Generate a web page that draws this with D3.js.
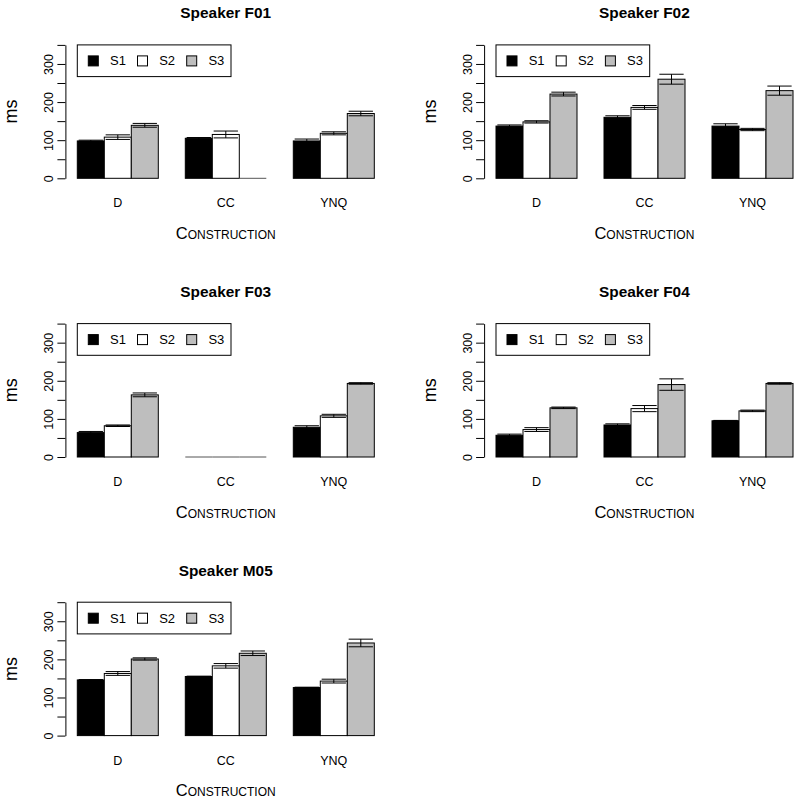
<!DOCTYPE html>
<html>
<head>
<meta charset="utf-8">
<script src="https://cdn.jsdelivr.net/npm/d3@7"></script>
<style>
  html, body { margin: 0; padding: 0; background: #fff; }
  svg { display: block; }
  text { font-family: "Liberation Sans", Arial, Helvetica, sans-serif; fill: #000; }
</style>
</head>
<body>
<svg id="chart" width="800" height="803"></svg>
<script>
// ---- data ----
const speakers = ["F01", "F02", "F03", "F04", "M05"];
const categories = ["D", "CC", "YNQ"];
const series = ["S1", "S2", "S3"];
const seriesFill = ["#000000", "#ffffff", "#bebebe"];
const yTicks = [0, 50, 100, 150, 200, 250, 300, 350];
const yTickLabels = [0, 100, 200, 300];

// means per category (rows: D, CC, YNQ; columns: S1, S2, S3)
const meansF01 = [[98, 108, 139], [105, 115, 0], [98, 118, 170]];
const errF01   = [[2, 6, 5], [2, 9, 0], [5, 4, 6]];
const meansF02 = [[137, 148, 221], [160, 186, 260], [137, 128, 230]];
const errF02   = [[3, 3, 5], [4, 5, 13], [6, 3, 12]];
const meansF03 = [[64, 82, 163], [0, 0, 0], [78, 108, 193]];
const errF03   = [[3, 2, 5], [0, 0, 0], [4, 4, 2]];
const meansF04 = [[57, 72, 129], [84, 127, 190], [95, 121, 193]];
const errF04   = [[3, 5, 2], [3, 8, 15], [1, 2, 2]];
const meansM05 = [[146, 163, 201], [155, 183, 216], [126, 143, 243]];
const errM05   = [[1, 5, 3], [1, 6, 6], [1, 5, 10]];

const panelMeans = [meansF01, meansF02, meansF03, meansF04, meansM05];
const panelErrs  = [errF01, errF02, errF03, errF04, errM05];

// ---- layout ----
const panelOffsets = [[0, 0], [418.7, 0], [0, 278.7], [418.7, 278.7], [0, 557.3]];
const plotLeft = 65.4, plotRight = 386;
const svg = d3.select("#chart");

const x0 = d3.scaleBand().domain(categories).range([77.3, 374.3]).paddingInner(0.25).paddingOuter(0);
const x1 = d3.scaleBand().domain(series).range([0, x0.bandwidth()]);
const y = d3.scaleLinear().domain([0, 350]).range([178.3, 44.9]);
const color = d3.scaleOrdinal().domain(series).range(seriesFill);
const plotCx = (plotLeft + plotRight) / 2;
const plotCy = (y(364) + y(-14)) / 2;

speakers.forEach((sp, pi) => {
  const [ox, oy] = panelOffsets[pi];
  const g = svg.append("g").attr("transform", `translate(${ox},${oy})`);
  const means = panelMeans[pi], errs = panelErrs[pi];

  const rows = [];
  categories.forEach((c, ci) => series.forEach((s, si) => {
    rows.push({ cat: c, ser: s, v: means[ci][si], e: errs[ci][si] });
  }));

  // title
  g.append("text").attr("x", plotCx).attr("y", 18.3)
    .attr("text-anchor", "middle").style("font-weight", "bold").style("font-size", "15.4px")
    .text("Speaker " + sp);

  // bars
  const bw = x1.bandwidth();
  rows.forEach(d => {
    const bx = x0(d.cat) + x1(d.ser);
    if (d.v > 0) {
      g.append("rect").attr("x", bx).attr("y", y(d.v))
        .attr("width", bw).attr("height", y(0) - y(d.v))
        .attr("fill", color(d.ser)).attr("stroke", "#000").attr("stroke-width", 1);
    } else {
      g.append("line").attr("x1", bx).attr("x2", bx + bw).attr("y1", y(0)).attr("y2", y(0))
        .attr("stroke", "#555").attr("stroke-width", 1);
    }
  });

  // error bars
  rows.filter(d => d.v > 0 && d.e > 0).forEach(d => {
    const cx = x0(d.cat) + x1(d.ser) + bw / 2;
    const hw = bw * 0.45;
    g.append("line").attr("x1", cx).attr("x2", cx).attr("y1", y(d.v - d.e)).attr("y2", y(d.v + d.e))
      .attr("stroke", "#000").attr("stroke-width", 1);
    [d.v - d.e, d.v + d.e].forEach(val => {
      g.append("line").attr("x1", cx - hw).attr("x2", cx + hw).attr("y1", y(val)).attr("y2", y(val))
        .attr("stroke", "#000").attr("stroke-width", 1);
    });
  });

  // y axis
  const axis = d3.axisLeft(y).tickValues(yTicks).tickSize(8).tickSizeOuter(0)
    .tickFormat(d => yTickLabels.includes(d) ? String(d) : "");
  const ag = g.append("g").attr("transform", `translate(${plotLeft},0)`).call(axis);
  ag.select(".domain").attr("stroke", "#000");
  ag.selectAll(".tick line").attr("stroke", "#000");
  ag.selectAll(".tick text")
    .attr("x", 0).attr("y", -12).attr("dy", null)
    .attr("transform", "rotate(-90)")
    .attr("text-anchor", "middle")
    .style("font-size", "12.5px")
    .attr("font-family", null).attr("fill", "#000");

  // y label
  g.append("text").attr("transform", `translate(17,${plotCy}) rotate(-90)`)
    .attr("text-anchor", "middle").style("font-size", "18px").text("ms");

  // category labels
  categories.forEach(c => {
    g.append("text").attr("x", x0(c) + x0.bandwidth() / 2).attr("y", 207.3)
      .attr("text-anchor", "middle").style("font-size", "12.5px").text(c);
  });

  // x label
  g.append("text").attr("x", plotCx).attr("y", 239)
    .attr("text-anchor", "middle").style("font-size", "16.5px")
    .style("font-variant", "small-caps").text("Construction");

  // legend
  const lx = x0.range()[0], ly = y(350);
  const lg = g.append("g").attr("transform", `translate(${lx},${ly})`);
  lg.append("rect").attr("x", 0).attr("y", 0).attr("width", 153.7).attr("height", 31.7)
    .attr("fill", "#fff").attr("stroke", "#000").attr("stroke-width", 1);
  series.forEach((s, i) => {
    const ix = 11 + i * 49.2;
    lg.append("rect").attr("x", ix).attr("y", 11).attr("width", 10).attr("height", 10)
      .attr("fill", color(s)).attr("stroke", "#000").attr("stroke-width", 1);
    lg.append("text").attr("x", ix + 21.7).attr("y", 20.6).style("font-size", "13px").text(s);
  });
});
</script>
</body>
</html>
